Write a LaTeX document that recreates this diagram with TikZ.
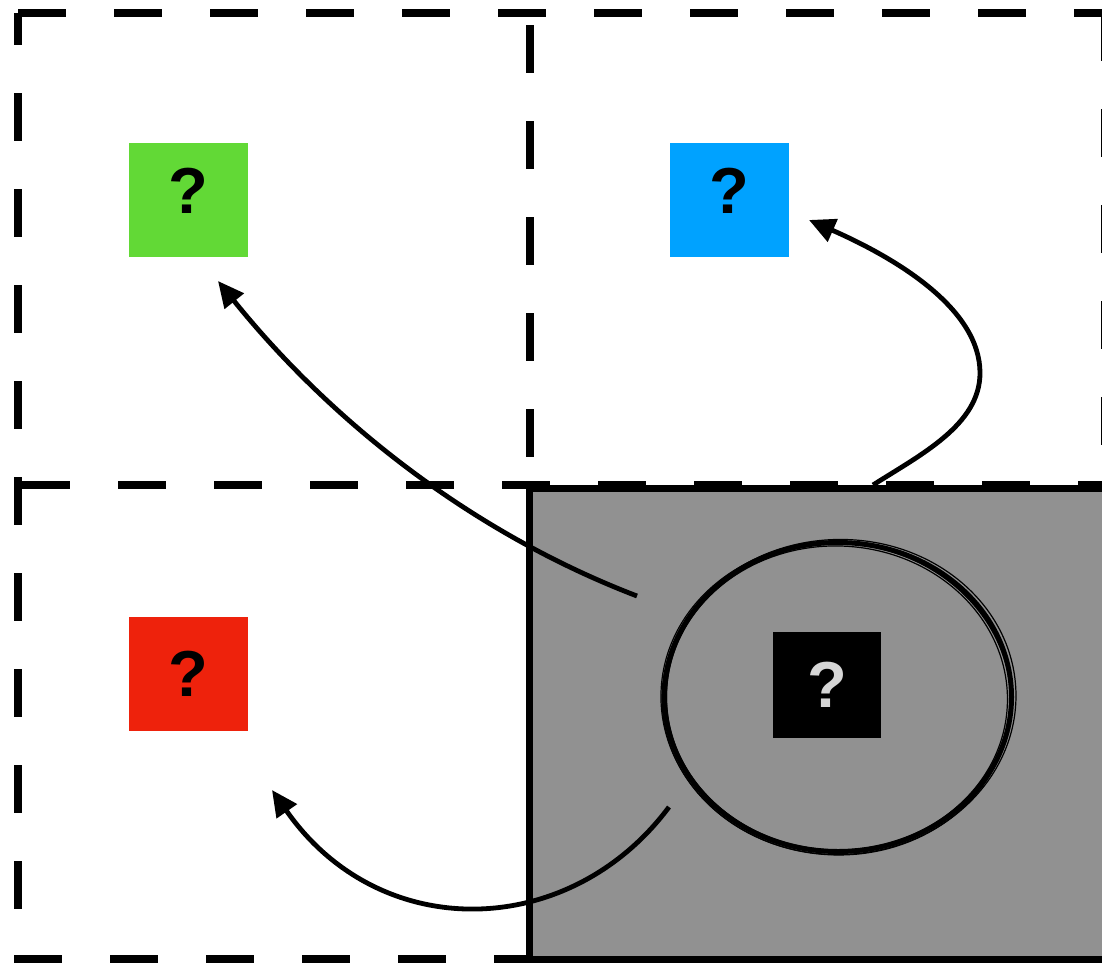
\documentclass[tikz,border=0pt]{standalone}
\usepackage{fontspec}
\setmainfont{Liberation Sans}
\usetikzlibrary{arrows.meta}
\definecolor{qgreen}{RGB}{98,217,54}
\definecolor{qblue}{RGB}{0,162,255}
\definecolor{qred}{RGB}{238,34,12}
\definecolor{boxgray}{RGB}{145,145,145}
\definecolor{qlight}{RGB}{214,214,214}
\begin{document}
\begin{tikzpicture}[x=1pt,y=-1pt,
  frame/.style={line width=8pt, dash pattern=on 48pt off 48pt},
  qbox/.style={minimum width=119pt, minimum height=114pt, inner sep=0pt,
    font=\fontsize{65}{65}\selectfont\bfseries},
  conn/.style={line width=4.8pt, -{Triangle[length=26pt,width=24pt]}},
  sketch/.style={line width=1.2pt}]
\useasboundingbox (0,0) rectangle (1102,964);
\clip (0,0) rectangle (1102,964);
% dashed frame
\draw[frame] (18,13) -- (1110,13);
\draw[frame, dash phase=16pt] (18,13) -- (18,959);
\draw[frame] (14,959) -- (1110,959);
\draw[frame] (1105,13) -- (1105,959);
\draw[frame, dash phase=84pt] (530,13) -- (530,485);
\draw[frame, dash phase=92pt] (18,485) -- (1110,485);
% grey region
\draw[line width=7pt, fill=boxgray] (529,488) rectangle (1120,959);
% sketchy ellipse
\draw[line width=5pt] (838,697) ellipse [x radius=173.5pt, y radius=154.5pt];
\draw[sketch, rotate around={2:(838,697)}] (839,697) ellipse [x radius=177pt, y radius=157.5pt];
\draw[sketch, rotate around={-2:(838,697)}] (837,698) ellipse [x radius=170.5pt, y radius=152pt];
\draw[sketch, rotate around={-4:(838,697)}] (836,699) ellipse [x radius=175pt, y radius=156pt];
% squares
\node[qbox, fill=qgreen, text depth=18pt] (green) at (188.5,200) {?};
\node[qbox, fill=qblue, text depth=18pt] (blue) at (729.5,200) {?};
\node[qbox, fill=qred] (red) at (188.5,674) {?};
\node[qbox, fill=black, text=qlight, minimum width=108pt, minimum height=106pt] (center) at (827,685) {?};
% connector ends
\coordinate (gs) at (637,596);
\coordinate (gt) at (218,281);
\coordinate (bs) at (873,485);
\coordinate (bt) at (809,220);
\coordinate (rs) at (669,807);
\coordinate (rt) at (272,790);
% connectors
\draw[conn] (gs) .. controls (470,532) and (330,420) .. (gt);
\draw[conn] (bs) .. controls (920,455) and (980,425) .. (980,373) .. controls (980,310) and (900,260) .. (bt);
\draw[conn] (rs) .. controls (570,940) and (380,945) .. (rt);
\end{tikzpicture}
\end{document}
